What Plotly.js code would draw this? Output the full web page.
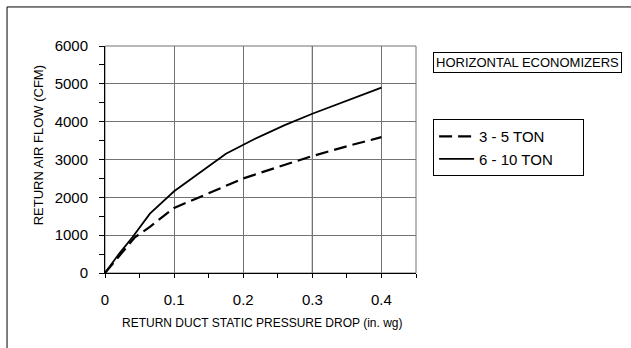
<!DOCTYPE html>
<html>
<head>
<meta charset="utf-8">
<script src="https://cdn.plot.ly/plotly-3.0.1.min.js"></script>
<style>
html,body{margin:0;padding:0;background:#fff;}
#chart{width:631px;height:348px;}
</style>
</head>
<body>
<div id="chart"></div>
<script>
// Series: 3 - 5 TON (dashed)
const xSmall = [0, 0.043, 0.065, 0.1, 0.135, 0.165, 0.2, 0.25, 0.3, 0.35, 0.4];
const ySmall = [0, 940, 1220, 1720, 1990, 2220, 2500, 2800, 3090, 3350, 3590];
// Series: 6 - 10 TON (solid)
const xLarge = [0, 0.02, 0.04, 0.065, 0.1, 0.14, 0.175, 0.215, 0.26, 0.3, 0.35, 0.4];
const yLarge = [0, 500, 950, 1570, 2160, 2700, 3150, 3530, 3910, 4210, 4560, 4900];
const seriesNames = ["3 - 5 TON", "6 - 10 TON"];
const xTicks = [0, 0.1, 0.2, 0.3, 0.4];
const xTickText = ["0", "0.1", "0.2", "0.3", "0.4"];
const yTicks = [0, 1000, 2000, 3000, 4000, 5000, 6000];
const chartTitle = "HORIZONTAL ECONOMIZERS";
const xTitle = "RETURN DUCT STATIC PRESSURE DROP (in. wg)";
const yTitle = "RETURN AIR FLOW (CFM)";

const FONT = "Liberation Sans, Arial, sans-serif";
const PAD = "\u00a0\u00a0\u00a0\u00a0\u00a0\u00a0"; // widens the legend box like the reference

const traces = [
  {x: xSmall, y: ySmall, name: seriesNames[0] + PAD, mode: "lines", type: "scatter",
   line: {color: "#000", width: 2.2, dash: "13px,6px"}},
  {x: xLarge, y: yLarge, name: seriesNames[1] + PAD, mode: "lines", type: "scatter",
   line: {color: "#000", width: 1.8}}
];

const GRID = "#737373";

const layout = {
  width: 631, height: 348,
  margin: {l: 105, r: 215, t: 46, b: 75, pad: 0},
  paper_bgcolor: "#fff", plot_bgcolor: "#fff",
  font: {family: FONT, color: "#000", size: 15},
  showlegend: true,
  legend: {
    x: 1.055, y: 0.678, xanchor: "left", yanchor: "top",
    bordercolor: "#000", borderwidth: 1, bgcolor: "#fff",
    font: {family: FONT, size: 15, color: "#000"},
    tracegroupgap: 0, itemwidth: 35
  },
  xaxis: {
    range: [0, 0.45], tickvals: xTicks, ticktext: xTickText,
    showgrid: true, gridcolor: GRID, gridwidth: 1,
    showline: true, linecolor: "#000", linewidth: 1,
    ticks: "outside", ticklen: 4, tickcolor: "#000", tickwidth: 1,
    ticklabelstandoff: 9,
    minor: {dtick: 0.05, tick0: 0, ticks: "outside", ticklen: 4, tickcolor: "#000", showgrid: false},
    zeroline: false, fixedrange: true,
    tickfont: {family: FONT, size: 15, color: "#000"}
  },
  yaxis: {
    range: [0, 6000], tickvals: yTicks,
    showgrid: true, gridcolor: GRID, gridwidth: 1,
    showline: true, linecolor: "#000", linewidth: 1,
    ticks: "outside", ticklen: 5, tickcolor: "#000", tickwidth: 1,
    ticklabelstandoff: 8,
    minor: {dtick: 500, tick0: 0, ticks: "outside", ticklen: 5, tickcolor: "#000", showgrid: false},
    zeroline: false, fixedrange: true,
    tickfont: {family: FONT, size: 15, color: "#000"}
  },
  shapes: [
    // plot area frame (gray)
    {type: "rect", xref: "paper", yref: "paper", x0: 0, x1: 1, y0: 0, y1: 1,
     line: {color: GRID, width: 1}, layer: "below"},
    // darker grid lines as in reference
    {type: "line", xref: "paper", yref: "y", x0: 0, x1: 1, y0: 3000, y1: 3000,
     line: {color: "#000", width: 1}, layer: "below"},
    {type: "line", xref: "x", yref: "paper", x0: 0.3, x1: 0.3, y0: 0, y1: 1,
     line: {color: "#000", width: 1}, layer: "below"},
    // outer figure frame (left and top)
    {type: "line", xref: "paper", yref: "paper", x0: -0.315, x1: -0.315, y0: -0.5, y1: 1.172,
     line: {color: "#000", width: 1}},
    {type: "line", xref: "paper", yref: "paper", x0: -0.315, x1: 2.0, y0: 1.172, y1: 1.172,
     line: {color: "#000", width: 1}}
  ],
  annotations: [
    {text: chartTitle, xref: "paper", yref: "paper", x: 1.357, y: 0.927,
     xanchor: "center", yanchor: "middle", showarrow: false,
     font: {family: FONT, size: 13, color: "#000"},
     bordercolor: "#000", borderwidth: 1, borderpad: 2, bgcolor: "#fff"},
    {text: yTitle, xref: "paper", yref: "paper", x: -0.215, y: 0.563,
     xanchor: "center", yanchor: "middle", textangle: -90, showarrow: false,
     font: {family: FONT, size: 13, color: "#000"}},
    {text: xTitle, xref: "paper", yref: "paper", x: 0.505, y: -0.222,
     xanchor: "center", yanchor: "middle", showarrow: false,
     font: {family: FONT, size: 12, color: "#000"}}
  ]
};

Plotly.newPlot("chart", traces, layout, {staticPlot: true, displayModeBar: false});
</script>
</body>
</html>
